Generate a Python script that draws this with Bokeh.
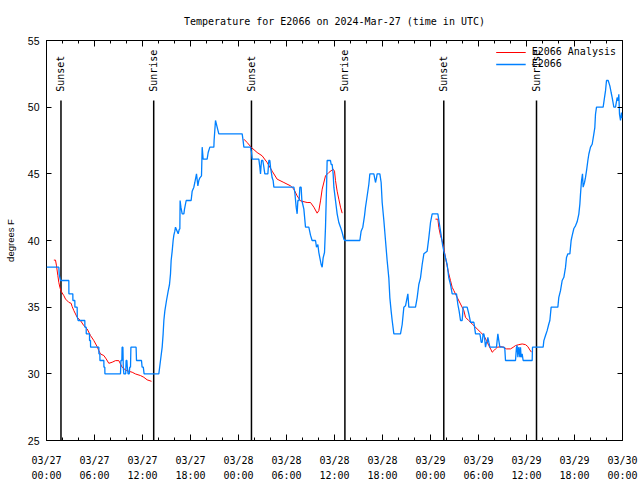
import math
from bokeh.plotting import figure
from bokeh.models import Range1d, LinearAxis, FixedTicker, Legend, LegendItem, ColumnDataSource
from bokeh.core.properties import value
from bokeh.embed import file_html
from bokeh.resources import INLINE

NaN = float("nan")

# hours after 2024-03-27 00:00 UTC
obs_hours = [0.0, 1.54, 1.6, 1.75, 2.79, 2.8, 3.29, 3.3, 3.54, 3.55, 3.83, 3.85, 3.96, 4.79, 4.8, 4.96, 4.97,
             5.375, 5.38, 5.5, 5.51, 6.54, 6.55, 6.67, 6.68, 7.17, 7.18, 7.29, 7.3, 9.25, 9.3, 9.42, 9.45,
             9.55, 9.6, 9.67, 9.9, 9.95, 10.05, 10.1, 10.2, 10.35, 10.4, 10.5, 10.55, 11.2, 11.25, 11.875,
             11.95, 12.1, 12.2, 14.04, 14.25, 14.46, 14.58, 14.67, 14.79, 15.0, 15.21, 15.375, 15.5, 15.58,
             15.71, 15.83, 15.92, 16.04, 16.125, 16.33, 16.46, 16.6, 16.67, 16.7, 16.8, 16.96, 17.17, 17.25,
             17.46, 18.08, 18.21, 18.42, 18.54, 18.75, 18.92, 19.04, 19.17, 19.375, 19.46, 19.58, 20.08,
             20.21, 20.42, 20.92, 20.95, 21.125, 21.33, 21.54, 24.46, 24.58, 24.67, 25.5, 25.625, 25.71,
             26.54, 26.67, 26.75, 26.875, 27.04, 27.17, 27.29, 27.67, 27.79, 27.92, 28.0, 28.21, 28.33,
             28.42, 30.92, 31.04, 31.21, 31.33, 31.42, 31.58, 31.67, 31.83, 31.92, 32.17, 32.375, 32.79,
             33.0, 33.2, 33.625, 33.75, 33.92, 34.04, 34.17, 34.33, 34.46, 34.58, 34.75, 34.875, 35.0,
             35.08, 35.5, 35.58, 35.71, 35.83, 35.92, 36.125, 36.33, 36.54, 36.75, 36.96, 37.17, 37.29,
             39.17, 39.33, 39.54, 39.75, 39.875, 40.0, 40.29, 40.42, 40.92, 41.125, 41.25, 41.33, 41.67,
             41.83, 41.96, 42.17, 42.375, 42.58, 42.79, 42.92, 43.08, 43.21, 43.42, 44.25, 44.46, 44.67,
             44.875, 45.17, 45.29, 46.125, 46.33, 46.54, 46.75, 46.96, 47.17, 47.58, 47.79, 48.0, 48.21,
             48.92, 49.17, 49.33, 49.5, 49.67, 49.875, 50.08, 50.29, 50.5, 50.71, 51.25, 51.42, 51.58,
             51.75, 51.96, 52.08, 52.58, 52.79, 53.0, 53.42, 53.5, 53.625, 54.17, 54.25, 54.33, 54.46,
             54.58, 54.67, 54.75, 54.875, 55.0, 55.08, 55.17, 55.29, 55.42, 56.25, 56.33, 56.42, 56.54,
             56.67, 57.17, 57.29, 57.375, 58.625, 58.75, 58.83, 58.92, 59.04, 59.17, 59.25, 59.33, 59.46,
             59.58, 60.71, 60.75, 62.08, 62.17, 62.375, 62.58, 62.79, 62.92, 63.08, 63.92, 64.04, 64.25,
             64.46, 64.67, 64.875, 65.0, 65.17, 65.42, 65.58, 65.71, 65.92, 66.125, 66.33, 66.54, 66.67,
             66.75, 66.875, 67.0, 67.08, 67.25, 67.375, 67.5, 67.67, 67.79, 68.0, 68.21, 68.42, 68.54,
             68.625, 68.75, 69.58, 69.75, 69.875, 70.0, 70.21, 70.42, 70.58, 70.71, 70.92, 71.125, 71.33,
             71.46, 71.54, 71.625, 71.75, 71.875, 71.96, 72.0]
obs_temp = [38.0, 38.0, 37.4, 37.0, 37.0, 36.0, 36.0, 35.5, 35.5, 35.0, 35.0, 34.25, 34.0, 34.0, 33.5, 33.5, 33.0,
            33.0, 32.5, 32.5, 32.0, 32.0, 31.5, 31.5, 31.0, 31.0, 30.5, 30.5, 30.0, 30.0, 31.0, 31.0, 32.0,
            32.0, 30.5, 30.0, 30.0, 31.0, 31.0, 30.5, 30.0, 30.0, 30.5, 30.5, 32.0, 32.0, 31.0, 31.0,
            30.5, 30.5, 30.0, 30.0, 31.0, 32.0, 33.0, 34.0, 34.7, 35.5, 36.2, 36.7, 37.5, 38.5,
            39.2, 40.0, 40.4, 40.7, 41.0, 40.7, 40.5, 40.86, 40.86, 43.0, 42.5, 42.0, 42.0, 42.35,
            43.0, 43.0, 43.7, 44.0, 44.35, 45.0, 44.1, 44.5, 44.7, 44.85, 47.0, 46.1, 46.1,
            46.6, 47.0, 47.0, 47.5, 49.0, 48.5, 48.0, 48.0, 47.47, 47.0, 47.0, 46.6, 46.1,
            46.1, 45.5, 45.0, 46.0, 46.0, 45.5, 45.0, 45.0, 46.0, 46.0, 45.5, 44.7, 44.5,
            44.0, 44.0, 43.6, 42.5, 42.0, 43.0, 43.0, 44.0, 44.0, 43.0, 42.35, 41.0, 41.0,
            40.4, 40.0, 40.0, 39.5, 39.7, 39.1, 38.7, 38.2, 38.0, 38.7, 39.1, 41.0, 43.85,
            46.0, 46.0, 45.7, 45.7, 45.0, 44.0, 43.0, 42.0, 41.35, 41.0, 40.6, 40.1, 40.0,
            40.0, 40.7, 41.0, 41.85, 42.5, 43.0, 44.2, 45.0, 45.0, 44.35, 44.7, 45.0, 45.0,
            44.35, 42.85, 41.5, 40.0, 38.5, 37.2, 35.7, 34.7, 34.0, 33.0, 33.0, 33.7, 35.0,
            35.1, 36.0, 35.0, 35.0, 35.7, 36.7, 37.2, 38.2, 39.0, 39.2, 40.2, 41.35, 42.0,
            42.0, 41.0, 40.4, 39.7, 39.2, 38.7, 38.2, 37.2, 36.7, 36.0, 36.0, 35.2, 34.7,
            34.0, 34.0, 35.0, 35.0, 34.5, 33.87, 33.87, 33.54, 33.0, 33.0, 32.74, 32.37, 32.37,
            33.0, 33.0, 32.74, 32.0, 32.37, 32.37, 32.74, 32.37, 32.0, 32.0, 32.49, 33.0, 32.49,
            32.0, 32.0, 31.87, 31.0, 31.0, 32.0, 32.12, 31.24, 32.0, 31.24, 32.0, 31.24, 31.49,
            31.0, 31.0, 32.0, 32.0, 32.49, 32.87, 33.24, 33.74, 34.0, 35.0, 35.0, 35.74, 36.24,
            37.0, 37.24, 37.98, 38.73, 39.0, 39.0, 40.0, 40.36, 40.9, 41.1, 41.4, 41.98, 42.73,
            43.48, 44.48, 45.0, 44.0, 44.35, 44.73, 45.22, 46.0, 46.47, 47.0, 47.22, 48.0, 48.47,
            49.47, 50.0, 50.0, 50.72, 51.22, 52.0, 52.0, 51.6, 51.1, 50.72, 50.0, 50.0, 50.72,
            50.47, 50.97, 49.47, 49.0, 49.6, 49.2, 49.2]

ana_hours = [0.92, 1.125, 1.25, 1.42, 1.54, 1.67, 1.83, 2.17, 2.375, 2.79, 3.08, 3.21, 3.42, 3.625, 3.83,
             4.25, 4.67, 5.08, 5.5, 5.92, 6.33, 6.54, 6.75, 7.17, 7.46, 7.79, 8.21, 8.625, 9.04, 9.25,
             9.46, 9.875, 10.29, 10.71, 11.125, 11.75, 12.17, 12.58, 13.125, NaN,
             24.67, 25.08, 25.625, 26.33, 26.96, 27.58, 28.21, 28.83, 29.67, 30.5, 30.92, 31.33, 31.75,
             32.58, 33.0, 33.42, 33.83, 34.04, 34.25, 34.46, 34.875, 35.29, 35.83, 36.0, 36.125, 36.33,
             36.54, 36.75, 36.96, NaN,
             48.625, 48.92, 49.04, 49.25, 49.46, 49.67, 49.875, 50.08, 50.29, 50.5, 50.71, 50.92, 51.33,
             51.75, 52.17, 52.375, 52.79, 53.21, 53.83, 54.25, 54.67, 55.0, 55.29, 55.58, 55.71, 55.92,
             56.125, 56.33, 56.83, 57.17, 57.5, 58.0, 58.33, 58.625, 59.04, 59.46, 59.875, 60.17, 60.42,
             60.625]
ana_temp = [38.53, 38.53, 38.1, 37.36, 36.86, 36.49, 36.19, 35.86, 35.61, 35.36, 35.29, 35.04, 34.74, 34.49, 34.24,
            33.99, 33.61, 33.37, 32.87, 32.49, 32.04, 31.74, 31.49, 31.37, 31.12, 30.79, 30.87, 30.99, 30.99, 30.74,
            30.49, 30.29, 30.19, 30.12, 29.99, 29.87, 29.74, 29.55, 29.44, NaN,
            47.6, 47.35, 46.97, 46.6, 46.35, 45.85, 45.2, 44.6, 44.35, 44.1, 43.85, 43.35, 42.97,
            42.85, 42.85, 42.5, 42.05, 42.24, 42.97, 43.85, 44.85, 45.1, 45.35, 45.2, 44.5, 43.7,
            43.1, 42.5, 42.05, NaN,
            41.6, 41.6, 40.98, 40.36, 39.98, 39.36, 38.73, 38.1, 37.49, 36.99, 36.49, 36.24, 35.74,
            35.24, 34.74, 34.24, 33.99, 33.74, 33.37, 33.12, 32.87, 32.49, 32.12, 31.79, 31.62, 31.74,
            31.87, 31.99, 32.04, 31.99, 31.87, 31.87, 31.99, 32.12, 32.19, 32.24, 32.19, 32.04, 31.79,
            31.62]

sun_hours = [1.81, 13.4, 25.62, 37.3, 49.66, 61.25]
sun_labels = ["Sunset", "Sunrise", "Sunset", "Sunrise", "Sunset", "Sunrise"]
sun_line_top = 50.5
sun_label_y = 51.15

x_tick_hours = [0, 6, 12, 18, 24, 30, 36, 42, 48, 54, 60, 66, 72]
x_tick_labels = ["03/27\n00:00", "03/27\n06:00", "03/27\n12:00", "03/27\n18:00",
                 "03/28\n00:00", "03/28\n06:00", "03/28\n12:00", "03/28\n18:00",
                 "03/29\n00:00", "03/29\n06:00", "03/29\n12:00", "03/29\n18:00",
                 "03/30\n00:00"]
x_minor_hours = list(range(0, 73, 2))
y_ticks = [25, 30, 35, 40, 45, 50, 55]

MONO = "DejaVu Sans Mono"
SANS = "Liberation Sans"
FS = "10px"

p = figure(width=640, height=483, output_backend="svg", toolbar_location=None,
           x_range=Range1d(0, 72), y_range=Range1d(25, 55),
           min_border_left=46, min_border_right=18, min_border_top=40, min_border_bottom=43,
           title="Temperature for E2066 on 2024-Mar-27 (time in UTC)")
p.title.text_font = MONO
p.title.text_font_size = FS
p.title.text_font_style = "normal"
p.title.text_color = "black"
p.title.text_line_height = 1.0
p.title.align = "center"
p.title.vertical_align = "bottom"
p.title.standoff = 27
p.background_fill_color = "white"
p.border_fill_color = "white"
p.outline_line_color = "black"
p.outline_line_width = 1
p.xgrid.visible = False
p.ygrid.visible = False

xt = FixedTicker(ticks=x_tick_hours, minor_ticks=x_minor_hours)
yt = FixedTicker(ticks=y_ticks, minor_ticks=[])

def style_axis(ax, labels=True):
    ax.axis_line_color = None
    ax.major_tick_in = 6
    ax.major_tick_out = 0
    ax.minor_tick_in = 3
    ax.minor_tick_out = 0
    ax.major_tick_line_color = "black"
    ax.minor_tick_line_color = "black"
    ax.major_label_text_color = "black"
    if not labels:
        ax.major_label_text_font_size = "0px"
        ax.major_label_standoff = 0

xa = p.xaxis[0]
xa.ticker = xt
style_axis(xa)
xa.major_label_overrides = {h: lab for h, lab in zip(x_tick_hours, x_tick_labels)}
xa.major_label_text_font = MONO
xa.major_label_text_font_size = FS
xa.major_label_text_line_height = 1.4
xa.major_label_standoff = 14

ya = p.yaxis[0]
ya.ticker = yt
style_axis(ya)
ya.minor_tick_in = 0
ya.major_tick_in = 5
ya.major_label_text_font = SANS
ya.major_label_text_font_size = "10.5px"
ya.major_label_standoff = 7
ya.axis_label = "degrees F"
ya.axis_label_text_font = SANS
ya.axis_label_text_font_size = "9.5px"
ya.axis_label_text_font_style = "normal"
ya.axis_label_text_color = "black"
ya.axis_label_standoff = 9

top = LinearAxis(ticker=FixedTicker(ticks=x_tick_hours, minor_ticks=x_minor_hours))
style_axis(top, labels=False)
top.major_label_overrides = {h: "" for h in x_tick_hours}
p.add_layout(top, "above")

right = LinearAxis(ticker=FixedTicker(ticks=y_ticks, minor_ticks=[]))
style_axis(right, labels=False)
right.minor_tick_in = 0
right.major_tick_in = 5
right.major_label_overrides = {t: "" for t in y_ticks}
p.add_layout(right, "right")

# sunrise / sunset markers
sun_src = ColumnDataSource(dict(x=sun_hours, y0=[sun_line_top] * len(sun_hours), y1=[25] * len(sun_hours),
                                ly=[sun_label_y] * len(sun_hours), text=sun_labels))
p.segment(x0="x", y0="y0", x1="x", y1="y1", source=sun_src, line_color="black", line_width=1.5)
p.text(x="x", y="ly", text="text", source=sun_src, angle=math.pi / 2, text_align="left",
       text_baseline="middle", text_font=value(MONO), text_font_size=value(FS), text_color="black")

r_ana = p.line(ana_hours, ana_temp, line_color="#ff0000", line_width=1)
r_obs = p.line(obs_hours, obs_temp, line_color="#0080ff", line_width=1.3)

legend = Legend(items=[LegendItem(label="E2066 Analysis", renderers=[r_ana]),
                       LegendItem(label="E2066", renderers=[r_obs])],
                location="top_right")
legend.label_text_font = MONO
legend.label_text_font_size = FS
legend.label_text_color = "black"
legend.background_fill_alpha = 0
legend.border_line_color = None
legend.glyph_width = 30
legend.glyph_height = 10
legend.label_height = 10
legend.spacing = 1
legend.padding = 0
legend.margin = 6
legend.label_standoff = 6
p.add_layout(legend)

open("out.html", "w").write(file_html(p, INLINE))
